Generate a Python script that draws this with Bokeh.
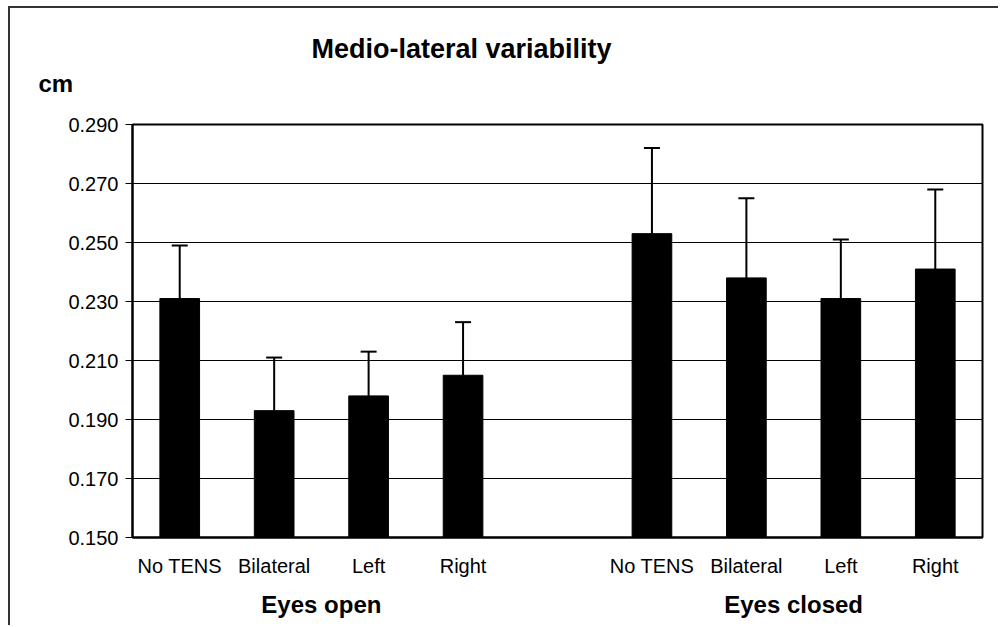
from bokeh.plotting import figure
from bokeh.models import (FactorRange, ColumnDataSource, Whisker, TeeHead, Title,
                          FixedTicker, NumeralTickFormatter, Range1d)
from bokeh.embed import file_html
from bokeh.resources import INLINE

# ---- data ----
groups = ["Eyes open", "Eyes closed"]
conditions = ["No TENS", "Bilateral", "Left", "Right"]
eyes_open_mean = [0.231, 0.193, 0.198, 0.205]
eyes_open_upper = [0.249, 0.211, 0.213, 0.223]
eyes_closed_mean = [0.253, 0.238, 0.231, 0.241]
eyes_closed_upper = [0.282, 0.265, 0.251, 0.268]
y_ticks = [0.150, 0.170, 0.190, 0.210, 0.230, 0.250, 0.270, 0.290]
title_text = "Medio-lateral variability"
unit_text = "cm"

factors = [(g, c) for g in groups for c in conditions]
means = eyes_open_mean + eyes_closed_mean
uppers = eyes_open_upper + eyes_closed_upper
source = ColumnDataSource(dict(x=factors, mean=means, upper=uppers))

FONT = "Liberation Sans"

p = figure(x_range=FactorRange(factors=factors, group_padding=1.0, range_padding=0.0),
           y_range=Range1d(y_ticks[0], y_ticks[-1]),
           width=990, height=619, output_backend="svg", toolbar_location=None,
           min_border_left=122, min_border_right=18, min_border_top=116, min_border_bottom=90)
p.styles = {"border-left": "2px solid #333333", "border-top": "2px solid #333333",
            "margin-left": "8px", "margin-top": "6px"}

p.background_fill_color = "white"
p.border_fill_color = "white"
p.outline_line_color = "black"
p.outline_line_width = 2

p.vbar(x="x", top="mean", bottom=y_ticks[0], width=0.42, source=source,
       fill_color="black", line_color="black")

w = Whisker(base="x", lower="mean", upper="upper", source=source,
            line_color="black", line_width=2, lower_head=None,
            upper_head=TeeHead(size=16, line_color="black", line_width=2))
p.add_layout(w)

# y axis
p.yaxis.ticker = FixedTicker(ticks=y_ticks)
p.yaxis.formatter = NumeralTickFormatter(format="0.000")
p.yaxis.major_label_text_font = FONT
p.yaxis.major_label_text_font_size = "20px"
p.yaxis.major_label_text_color = "black"
p.yaxis.major_tick_out = 7
p.yaxis.major_tick_in = 0
p.yaxis.minor_tick_line_color = None
p.yaxis.axis_line_width = 2
p.yaxis.major_label_standoff = 7

# x axis
p.xaxis.major_tick_line_color = None
p.xaxis.minor_tick_line_color = None
p.xaxis.axis_line_width = 2
p.xaxis.major_label_text_font = FONT
p.xaxis.major_label_text_font_size = "20px"
p.xaxis.major_label_text_color = "black"
p.xaxis.major_label_standoff = 11
p.xaxis.group_text_font = FONT
p.xaxis.group_text_font_size = "24px"
p.xaxis.group_text_font_style = "bold"
p.xaxis.group_text_color = "black"
p.xaxis.separator_line_color = None

p.xgrid.grid_line_color = None
p.ygrid.grid_line_color = "black"
p.ygrid.grid_line_width = 1

# unit label (closest to frame) and main title
p.add_layout(Title(text=unit_text, align="left", offset=-94, standoff=55,
                   text_font=FONT, text_font_size="24px", text_font_style="bold",
                   text_color="black"), "above")
p.title.text = title_text
p.title.align = "left"
p.title.offset = 179
p.title.standoff = -46
p.title.text_font = FONT
p.title.text_font_size = "27px"
p.title.text_font_style = "bold"
p.title.text_color = "black"

open("out.html", "w").write(file_html(p, INLINE))
